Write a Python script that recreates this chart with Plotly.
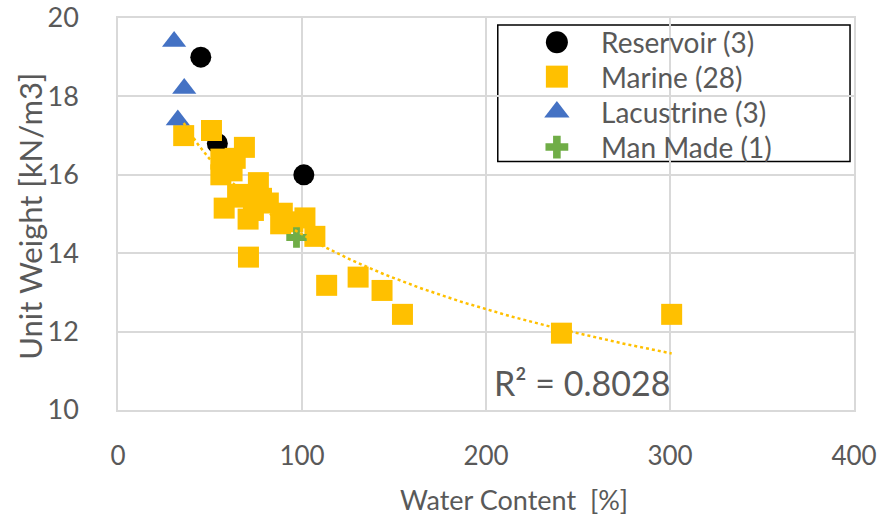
import numpy as np
import plotly.graph_objects as go

# Water content [%] and unit weight [kN/m3] per deposit type
reservoir_w = [45, 54, 101]
reservoir_g = [19.0, 16.8, 16.0]

marine_w = [35.7, 50.8, 68.7, 55.9, 63.7, 55.9, 76.3, 57.7, 67.1, 70.7,
            73.6, 81.7, 89.3, 88.4, 101.6, 107, 70.9, 113.4, 130.5, 143.5,
            154.6, 241, 300.9, 60, 65, 78, 95, 62]
marine_g = [17.0, 17.13, 16.7, 16.0, 16.42, 16.4, 15.8, 15.15, 15.43, 14.87,
            15.09, 15.28, 15.02, 14.75, 14.9, 14.43, 13.9, 13.18, 13.39, 13.05,
            12.44, 11.96, 12.44, 16.2, 15.5, 15.4, 14.8, 16.1]

lacustrine_w = [30.5, 36, 32.5]
lacustrine_g = [19.4, 18.2, 17.4]

manmade_w = [97]
manmade_g = [14.4]

series_names = ["Reservoir (3)", "Marine (28)", "Lacustrine (3)", "Man Made (1)"]
x_ticks = [0, 100, 200, 300, 400]
y_ticks = [10, 12, 14, 16, 18, 20]
x_title = "Water Content  [%]"
y_title = "Unit Weight [kN/m3]"
r2_label = "R\u00b2 = 0.8028"

# Logarithmic trendline fitted to the marine samples
b, a = np.polyfit(np.log(marine_w), marine_g, 1)
trend_x = np.linspace(min(marine_w), max(marine_w), 200)
trend_y = a + b * np.log(trend_x)

FONT = "Lato"
GREY = "#595959"
GRID = "#d9d9d9"

styles = [
    dict(symbol="circle", size=21, color="black"),
    dict(symbol="square", size=21, color="#FFC000"),
    dict(symbol="triangle-up", size=21, color="#4472C4"),
    dict(symbol="cross", size=17, color="#70AD47"),
]
series = [(reservoir_w, reservoir_g), (marine_w, marine_g),
          (lacustrine_w, lacustrine_g), (manmade_w, manmade_g)]

fig = go.Figure()
for (xs, ys), name, st in zip(series, series_names, styles):
    fig.add_trace(go.Scatter(x=xs, y=ys, mode="markers", name=name,
                             showlegend=False, marker=st))
fig.add_trace(go.Scatter(x=trend_x, y=trend_y, mode="lines", showlegend=False,
                         line=dict(color="#FFC000", width=2.5, dash="dot")))

# Legend box drawn by hand, in plot-area fractions
LEG_X0, LEG_X1, LEG_Y0, LEG_Y1 = 0.516, 0.9946, 0.634, 0.982
LEG_MARK_X, LEG_TEXT_X = 0.5963, 0.6538
LEG_ROWS = [0.9383, 0.8504, 0.760, 0.6708]

fig.add_shape(type="rect", xref="paper", yref="paper",
              x0=LEG_X0, x1=LEG_X1, y0=LEG_Y0, y1=LEG_Y1,
              line=dict(color="black", width=1.5), fillcolor="white",
              layer="between")
for name, st, ry in zip(series_names, styles, LEG_ROWS):
    leg_st = dict(st)
    leg_st["size"] = 22 if st["symbol"] != "cross" else 19
    fig.add_trace(go.Scatter(x=[LEG_MARK_X], y=[ry], xaxis="x2", yaxis="y2",
                             mode="markers", marker=leg_st, showlegend=False,
                             hoverinfo="skip"))
    fig.add_annotation(x=LEG_TEXT_X, y=ry, xref="paper", yref="paper",
                       text=name, showarrow=False, xanchor="left",
                       yanchor="middle",
                       font=dict(family=FONT, size=28, color=GREY))

fig.add_annotation(x=301, y=10.69, xref="x", yref="y", text=r2_label,
                   showarrow=False, xanchor="right", yanchor="middle",
                   font=dict(family=FONT, size=34, color=GREY))

# Axis titles placed as free text
fig.add_annotation(x=0.538, y=-0.229, xref="paper", yref="paper",
                   text=x_title, showarrow=False, xanchor="center",
                   yanchor="middle", font=dict(family=FONT, size=27, color=GREY))
fig.add_annotation(x=-0.119, y=0.494, xref="paper", yref="paper",
                   text=y_title, showarrow=False, textangle=-90,
                   xanchor="center", yanchor="middle",
                   font=dict(family=FONT, size=31, color=GREY))

fig.update_layout(
    width=887, height=526,
    margin=dict(l=117.5, r=33, t=17.5, b=116),
    paper_bgcolor="white", plot_bgcolor="white",
    font=dict(family=FONT, color=GREY, size=22),
    showlegend=False,
    xaxis2=dict(overlaying="x", range=[0, 1], visible=False, fixedrange=True),
    yaxis2=dict(overlaying="y", range=[0, 1], visible=False, fixedrange=True),
)
fig.layout.xaxis.update(
    range=[0, 400], tickvals=x_ticks, showgrid=True, automargin=False,
    gridcolor=GRID, gridwidth=1.5, zeroline=False,
    showline=True, mirror=True, linecolor=GRID, linewidth=1.5,
    ticks="", ticklabelstandoff=22,
    tickfont=dict(family=FONT, size=26, color=GREY))
fig.layout.yaxis.update(
    range=[10, 20], tickvals=y_ticks, showgrid=True, automargin=False,
    gridcolor=GRID, gridwidth=1.5, zeroline=False,
    showline=True, mirror=True, linecolor=GRID, linewidth=1.5,
    ticks="", ticklabelstandoff=32,
    tickfont=dict(family=FONT, size=27, color=GREY))

fig.write_html("out.html")
